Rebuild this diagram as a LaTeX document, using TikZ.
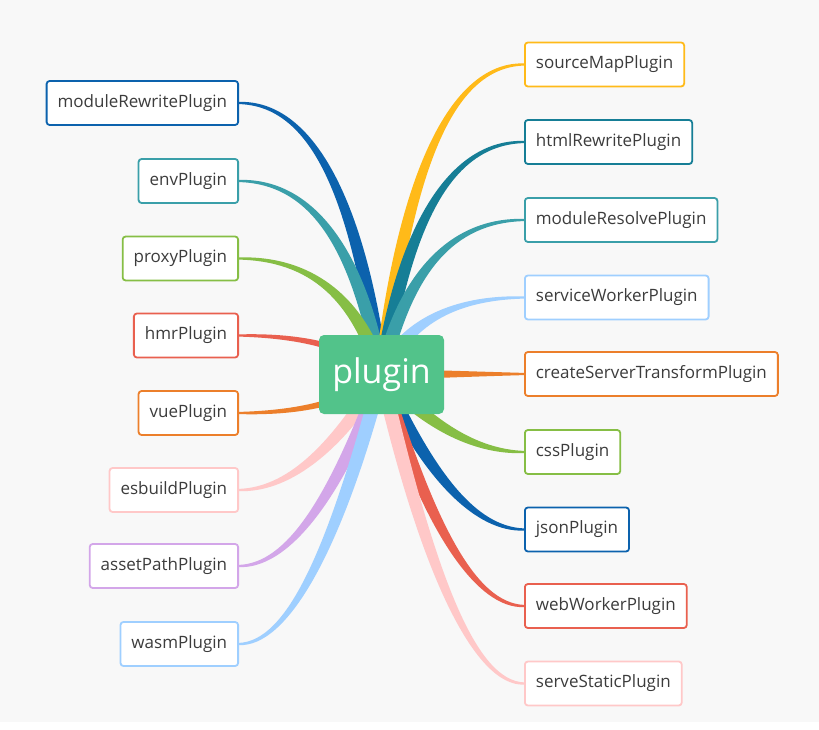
\documentclass[tikz,border=0pt]{standalone}
\usepackage{fontspec}
\setmainfont{Open Sans}
\usepackage{xcolor}
\usetikzlibrary{positioning, calc}

\definecolor{bgcol}{HTML}{F8F8F8}
\definecolor{rootgreen}{HTML}{52C38A}
\definecolor{txtgray}{HTML}{3C3C3C}
\definecolor{cblue}{HTML}{0C62AD}
\definecolor{cteal}{HTML}{3A9FA9}
\definecolor{cdteal}{HTML}{167E96}
\definecolor{cgreen}{HTML}{86BE45}
\definecolor{cred}{HTML}{E9604F}
\definecolor{corange}{HTML}{EC7F2B}
\definecolor{cpink}{HTML}{FFC8C8}
\definecolor{clav}{HTML}{D3A6E9}
\definecolor{csky}{HTML}{9FCFFF}
\definecolor{camber}{HTML}{FFBA19}

\pgfdeclarelayer{back}
\pgfsetlayers{back,main}

\tikzset{
  leafbox/.style={draw=#1, line width=1.8pt, rounded corners=3pt, fill=white,
    text=txtgray, minimum height=44pt, inner xsep=11pt,
    font=\fontsize{17}{20}\selectfont},
  rootbox/.style={fill=rootgreen, rounded corners=5pt, text=white,
    minimum width=125pt, minimum height=79pt, font=\fontsize{34}{40}\selectfont},
}

% tapered branch: colour, leaf anchor, bend factor, half width at root
\newcommand\branch[4]{%
  \coordinate (qa) at ($(plugin.center)!#3!(plugin.center -| #2)$);
  \coordinate (q) at (qa |- #2);
  \coordinate (p1) at ($(plugin.center)!2/3!(q)$);
  \coordinate (p2) at ($(#2)!2/3!(q)$);
  \coordinate (s0) at ($(plugin.center)!#4pt!90:(p1)$);
  \coordinate (e0) at ($(#2)!1.1pt!-90:(p2)$);
  \coordinate (e1) at ($(#2)!3pt!-90:(p2)$);
  \fill[#1] (s0) .. controls ($(p1)+(s0)-(plugin.center)$) and ($(p2)+(e1)-(#2)$) .. (e0)
    -- ($(#2)!-1!(e0)$) .. controls ($(p2)-(e1)+(#2)$) and ($(p1)-(s0)+(plugin.center)$) .. ($(plugin.center)!-1!(s0)$) -- cycle;
}

\begin{document}
\begin{tikzpicture}[x=1pt, y=-1pt]
  \useasboundingbox (0,0) rectangle (819,730);

  % Root
  \node[rootbox] (plugin) at (381.5,374.5) {plugin};

  % Left leaves
  \foreach \nm/\txt/\col/\yy in {mrw/moduleRewritePlugin/cblue/103, env/envPlugin/cteal/181,
      proxy/proxyPlugin/cgreen/258.5, hmr/hmrPlugin/cred/335.5, vue/vuePlugin/corange/413,
      esb/esbuildPlugin/cpink/490, asp/assetPathPlugin/clav/566, wasm/wasmPlugin/csky/644}
    \node[leafbox=\col, anchor=east] (\nm) at (239,\yy) {\txt};

  % Right leaves
  \foreach \nm/\txt/\col/\yy in {smap/sourceMapPlugin/camber/64.5, hrw/htmlRewritePlugin/cdteal/142,
      mres/moduleResolvePlugin/cteal/220, sw/serviceWorkerPlugin/csky/297.5,
      cst/createServerTransformPlugin/corange/374, css/cssPlugin/cgreen/452,
      json/jsonPlugin/cblue/529.5, ww/webWorkerPlugin/cred/606, sst/serveStaticPlugin/cpink/683.5}
    \node[leafbox=\col, anchor=west] (\nm) at (524,\yy) {\txt};

  \begin{pgfonlayer}{back}
    \fill[bgcol] (0,0) rectangle (819,722);
    % Branches
    \foreach \nm/\col/\f/\w in {mrw/cblue/0.25/7, env/cteal/0.25/7, proxy/cgreen/0.25/7,
        hmr/cred/0.3/4, vue/corange/0.3/4, esb/cpink/0.5/7, asp/clav/0.5/7, wasm/csky/0.5/7}
      \branch{\col}{\nm.east}{\f}{\w};
    \foreach \nm/\col/\f/\w in {smap/camber/0.25/7, hrw/cdteal/0.25/7, mres/cteal/0.25/7,
        sw/csky/0.25/7, cst/corange/0.3/5, css/cgreen/0.5/7, json/cblue/0.5/7,
        ww/cred/0.5/7, sst/cpink/0.5/7}
      \branch{\col}{\nm.west}{\f}{\w};
  \end{pgfonlayer}
\end{tikzpicture}
\end{document}
